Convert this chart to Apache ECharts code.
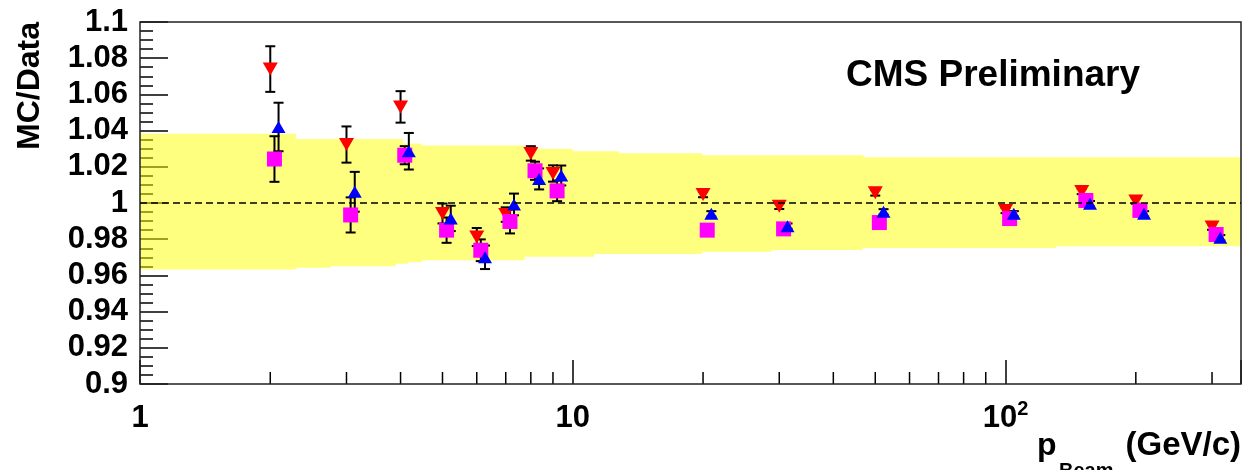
<!DOCTYPE html>
<html>
<head>
<meta charset="utf-8">
<script src="https://cdn.jsdelivr.net/npm/echarts@6/dist/echarts.min.js"></script>
<style>
  html, body { margin: 0; padding: 0; background: #fff; }
  #chart { width: 1245px; height: 470px; }
</style>
</head>
<body>
<div id="chart"></div>
<script>
// ---- axis ranges ----
const X_MIN = 1, X_MAX = 350;
const Y_MIN = 0.9, Y_MAX = 1.1, Y_STEP = 0.02;

// ---- x tick labels ----
const xLabelValues = [1, 10, 100];
const xLabelTexts = ['{m|1}', '{m|10}', '{m|10}{s|2}'];
const xMinorTicks = [2, 3, 4, 5, 6, 7, 8, 9, 20, 30, 40, 50, 60, 70, 80, 90, 200, 300];

// ---- series: red (down triangles) ----
const redX = [2, 3, 4, 5, 6, 7, 8, 9, 20, 30, 50, 100, 150, 200, 300];
const redY = [1.074, 1.0323, 1.0531, 0.9942, 0.9812, 0.9936, 1.0274, 1.0163, 1.0047, 0.9982, 1.0056, 0.9959, 1.0064, 1.0011, 0.9867];
const redErr = [0.0126, 0.0100, 0.0087, 0.0055, 0.0050, 0.0040, 0.0040, 0.0045, 0.0015, 0.0015, 0.0015, 0.0015, 0.0015, 0.0015, 0.0015];

// ---- series: magenta (squares) ----
const magX = [2.045, 3.067, 4.09, 5.11, 6.13, 7.16, 8.18, 9.2, 20.45, 30.7, 51.1, 102.2, 153.3, 204.4, 306.6];
const magY = [1.0243, 0.9934, 1.0264, 0.9850, 0.9739, 0.9898, 1.0178, 1.0067, 0.9850, 0.9857, 0.9892, 0.9914, 1.0014, 0.9959, 0.9826];
const magErr = [0.0126, 0.0097, 0.0050, 0.0070, 0.0060, 0.0066, 0.0050, 0.0057, 0.0015, 0.0015, 0.0015, 0.0015, 0.0015, 0.0015, 0.0015];

// ---- series: blue (up triangles) ----
const blueX = [2.09, 3.135, 4.18, 5.225, 6.27, 7.315, 8.36, 9.405, 20.9, 31.35, 52.25, 104.5, 156.75, 209, 313.5];
const blueY = [1.0420, 1.0062, 1.0286, 0.9915, 0.9700, 0.9992, 1.0133, 1.0152, 0.9940, 0.9872, 0.9951, 0.9940, 0.9996, 0.9940, 0.9808];
const blueErr = [0.0134, 0.0110, 0.0101, 0.0070, 0.0065, 0.0060, 0.0058, 0.0055, 0.0015, 0.0015, 0.0015, 0.0015, 0.0015, 0.0015, 0.0015];

// ---- systematic band (step edges) ----
const bandTopEdges = [1, 2.29, 4.05, 4.48, 7.74, 10, 12.8, 19.9, 47, 350];
const bandTopValues = [1.0383, 1.0354, 1.0329, 1.0318, 1.0300, 1.0286, 1.0275, 1.0264, 1.0253];
const bandLowEdges = [1, 2.29, 2.76, 3.90, 4.16, 4.48, 7.74, 11.2, 19.9, 28.8, 46.7, 131, 350];
const bandLowValues = [0.9632, 0.9642, 0.9651, 0.9664, 0.9673, 0.9684, 0.9703, 0.9718, 0.9730, 0.9741, 0.9752, 0.9761];

const REF_VALUE = 1;

const FONT = "'Liberation Sans', Arial, Helvetica, sans-serif";

function errorBarSeries(xs, ys, es) {
  return {
    type: 'custom',
    silent: true,
    encode: { x: 0, y: 1 },
    data: xs.map((x, i) => [x, ys[i], es[i]]),
    renderItem: function (params, api) {
      const x = api.value(0), y = api.value(1), e = api.value(2);
      const t = api.coord([x, y + e]);
      const b = api.coord([x, y - e]);
      const hw = 5;
      const st = { stroke: '#000', lineWidth: 2 };
      return {
        type: 'group',
        children: [
          { type: 'line', shape: { x1: t[0], y1: t[1], x2: b[0], y2: b[1] }, style: st },
          { type: 'line', shape: { x1: t[0] - hw, y1: t[1], x2: t[0] + hw, y2: t[1] }, style: st },
          { type: 'line', shape: { x1: b[0] - hw, y1: b[1], x2: b[0] + hw, y2: b[1] }, style: st }
        ]
      };
    }
  };
}

function markerSeries(xs, ys, symbol, size, rotate, color) {
  return {
    type: 'scatter',
    silent: true,
    symbol: symbol,
    symbolSize: size,
    symbolRotate: rotate,
    itemStyle: { color: color, opacity: 1 },
    data: xs.map((x, i) => [x, ys[i]])
  };
}

const chart = echarts.init(document.getElementById('chart'), null, { renderer: 'canvas' });

const option = {
  animation: false,
  backgroundColor: '#fff',
  grid: {
    left: 140, right: 4, top: 22, bottom: 86,
    show: true, borderColor: '#222', borderWidth: 1.5,
    backgroundColor: 'transparent', z: 3
  },
  xAxis: {
    type: 'log', logBase: 10, min: X_MIN, max: X_MAX,
    axisLine: { show: false },
    splitLine: { show: false },
    axisTick: { show: true, inside: true, length: 24, lineStyle: { color: '#000', width: 1.5 } },
    minorTick: { show: false },
    axisLabel: {
      show: true, margin: 15, showMinLabel: true, showMaxLabel: true,
      formatter: function (v) {
        for (let i = 0; i < xLabelValues.length; i++) {
          if (Math.abs(v - xLabelValues[i]) < 1e-6 * xLabelValues[i]) return xLabelTexts[i];
        }
        return '';
      },
      rich: {
        m: { fontSize: 31, fontWeight: 'bold', fontFamily: FONT, color: '#000', lineHeight: 31, padding: [7, 0, 0, 0] },
        s: { fontSize: 20, fontWeight: 'bold', fontFamily: FONT, color: '#000', lineHeight: 20, verticalAlign: 'top' }
      }
    }
  },
  yAxis: {
    type: 'value', min: Y_MIN, max: Y_MAX, interval: Y_STEP,
    axisLine: { show: false },
    splitLine: { show: false },
    axisTick: { show: true, inside: true, length: 28, lineStyle: { color: '#000', width: 1.5 } },
    minorTick: { show: true, splitNumber: 4, length: 13, lineStyle: { color: '#000', width: 1.5 } },
    axisLabel: {
      margin: 12, color: '#000', fontSize: 31, fontWeight: 'bold', fontFamily: FONT,
      padding: [4, 0, 0, 0],
      showMinLabel: true, showMaxLabel: true,
      formatter: function (v) { return String(Math.round(v * 1000) / 1000); }
    }
  },
  graphic: [
    {
      type: 'text', x: 846, y: 76,
      style: { text: 'CMS Preliminary', font: 'bold 37px ' + FONT, fill: '#000', align: 'left', verticalAlign: 'middle' }
    },
    {
      type: 'text', x: 30, y: 22, rotation: Math.PI / 2,
      style: { text: 'MC/Data', font: 'bold 32px ' + FONT, fill: '#000', align: 'right', verticalAlign: 'middle' }
    },
    {
      type: 'text', x: 1037, y: 446,
      style: { text: 'p', font: 'bold 32px ' + FONT, fill: '#000', align: 'left', verticalAlign: 'middle' }
    },
    {
      type: 'text', x: 1059, y: 471,
      style: { text: 'Beam', font: 'bold 20px ' + FONT, fill: '#000', align: 'left', verticalAlign: 'middle' }
    },
    {
      type: 'text', x: 1241, y: 446,
      style: { text: '(GeV/c)', font: 'bold 33px ' + FONT, fill: '#000', align: 'right', verticalAlign: 'middle' }
    }
  ],
  series: [
    // minor ticks on log x axis
    {
      type: 'custom', silent: true, encode: { x: 0, y: 1 },
      data: xMinorTicks.map(v => [v, Y_MIN]),
      renderItem: function (params, api) {
        const p = api.coord([api.value(0), api.value(1)]);
        return { type: 'line', shape: { x1: p[0], y1: p[1], x2: p[0], y2: p[1] - 12 }, style: { stroke: '#000', lineWidth: 1.5 } };
      }
    },
    // yellow systematic band
    {
      type: 'custom', silent: true, encode: { x: 0, y: 1 },
      data: [[X_MIN, REF_VALUE]],
      renderItem: function (params, api) {
        const pts = [];
        for (let i = 0; i < bandTopValues.length; i++) {
          pts.push(api.coord([bandTopEdges[i], bandTopValues[i]]));
          pts.push(api.coord([bandTopEdges[i + 1], bandTopValues[i]]));
        }
        for (let i = bandLowValues.length - 1; i >= 0; i--) {
          pts.push(api.coord([bandLowEdges[i + 1], bandLowValues[i]]));
          pts.push(api.coord([bandLowEdges[i], bandLowValues[i]]));
        }
        return { type: 'polygon', shape: { points: pts }, style: { fill: 'rgba(255,255,0,0.5)' } };
      }
    },
    // dashed reference line at 1
    {
      type: 'line', silent: true, showSymbol: false, symbol: 'none',
      data: [[X_MIN, REF_VALUE], [X_MAX, REF_VALUE]],
      lineStyle: { color: '#000', width: 1.6, type: [7, 4] }
    },
    errorBarSeries(redX, redY, redErr),
    markerSeries(redX, redY, 'triangle', [15, 13], 180, '#ff0000'),
    errorBarSeries(magX, magY, magErr),
    markerSeries(magX, magY, 'rect', 15, 0, '#ff00ff'),
    errorBarSeries(blueX, blueY, blueErr),
    markerSeries(blueX, blueY, 'triangle', [14, 12], 0, '#0000ff')
  ]
};

chart.setOption(option);
</script>
</body>
</html>
